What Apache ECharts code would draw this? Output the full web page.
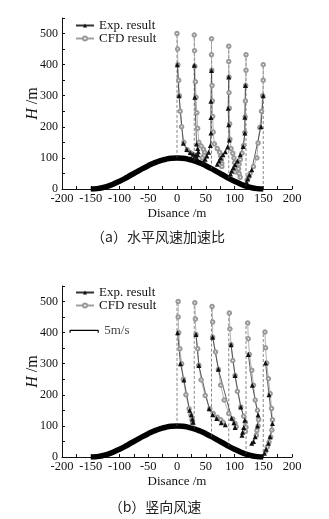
<!DOCTYPE html>
<html>
<head>
<meta charset="utf-8">
<script src="https://cdn.jsdelivr.net/npm/echarts/dist/echarts.min.js"></script>
<style>
  html, body { margin: 0; padding: 0; background: #fff; }
  #chart { width: 329px; height: 519px; }
</style>
</head>
<body>
<div id="chart"></div>
<script>
// hill profile (distance, height)
var hillX = [-150, -140, -130, -120, -110, -100, -90, -80, -70, -60, -50, -40, -30, -20, -10, 0,
  10, 20, 30, 40, 50, 60, 70, 80, 90, 100, 110, 120, 130, 140, 150];
var hillH = [0, 1, 4, 9.5, 16.5, 25, 34.5, 45, 55, 65.5, 75, 83.5, 90.5, 95.5, 99, 100,
  99, 95.5, 90.5, 83.5, 75, 65.5, 55, 45, 34.5, 25, 16.5, 9.5, 4, 1, 0];

// measuring stations: dashed reference lines
var stationX = [0, 30, 60, 90, 120, 150];
var groundH = [100, 90.5, 65.5, 34.5, 9.5, 0];
var topA = [500, 495, 483, 459, 432, 400];
var topB = [500, 496, 484, 463, 431, 402];

// (a) speed-up ratio profiles, [x, H]
var aCfd = [
  [[0,500],[1,450],[1.5,400],[3,350],[4,300],[5.5,250],[8,200],[12,150],[18,126],[24,116],[29,110],[33,106]],
  [[30,495],[30.5,445],[31,395],[32,345],[33,295],[34.5,245],[36,195],[38,150],[42,138],[46,128],[48,118],[47,108],[44,100]],
  [[60,483],[60,432],[60.5,382],[61,333],[61.5,283],[62,233],[63,183],[65,145],[70,130],[74,118],[76,106],[77,94],[78,82],[78,72]],
  [[90,459],[90,410],[90.5,360],[90.5,310],[91,260],[91.5,210],[92,160],[94,130],[97,115],[99,100],[100,85],[101,70],[101,55]],
  [[120,432],[120,382],[119.5,333],[119,283],[118.5,232],[118,182],[116,140],[113,115],[110,95],[108,80],[107,65],[108,50],[110,38]],
  [[150,400],[150,350],[149,300],[147,250],[144,198],[141,148],[139,100],[133,72],[127,50],[124,38],[122,28]]
];
var aExp = [
  [[0.5,400],[3.5,300],[11,147],[17,127],[23,117],[28,112],[32,108]],
  [[30,398],[31,295],[34,145],[36,130],[37,120],[36,110],[34,101]],
  [[60,381],[59,282],[59,230],[59,180],[58,140],[55,118],[52,106],[49,96],[46,88]],
  [[90,360],[89,260],[90,207],[91,158],[88,135],[84,120],[80,110],[76,100],[73,90],[70,80]],
  [[119,333],[118,231],[118,180],[115,137],[110,110],[105,90],[101,78],[98,68],[95,58],[93,48]],
  [[150,300],[146,200],[130,62],[126,45],[123,33],[121,22]]
];

// (b) vertical wind speed profiles, [x, H]
var bCfd = [
  [[2,500],[2,450],[3,400],[5,348],[8,300],[11,250],[15.5,200],[21,155],[24,135],[26,120],[27,108]],
  [[31,496],[32,444],[33,394],[36,348],[38,295],[42,248],[49,198],[57,155],[63,140],[70,128],[76,120],[80,112]],
  [[61,484],[62,434],[62,385],[67,338],[72,282],[76,231],[82,183],[90,140],[97,122],[101,108],[103,97]],
  [[91,463],[92,412],[94,361],[97,310],[101,262],[105,211],[111,161],[116,131],[119,112],[120,96],[119,82]],
  [[123,431],[124,380],[126,330],[130,279],[133,231],[136,183],[140,150],[142,120],[141,100],[139,85],[138,70]],
  [[153,402],[154,351],[156,302],[159,252],[162,204],[164.5,156],[166,120],[165,87],[163,64],[160,48],[157,32],[154,18]]
];
var bExp = [
  [[1,400],[6,300],[12,248],[22,150],[25,136],[27,122],[28,112]],
  [[33,394],[38,294],[56,155],[62,136],[69,124],[77,110],[84,104]],
  [[62,385],[72,282],[95,125],[99,110],[101,95]],
  [[94,361],[101,262],[111,161],[118,118],[116,95],[114,80],[113,70]],
  [[124,330],[131,231],[141,135],[140,100],[136,65],[133,50],[130,44]],
  [[154,302],[160,200],[166,108],[162,65],[159,44],[155,25],[152,12]]
];

// scale arrow for (b): 5 m/s
var scaleBar = [[-186,400],[-186,407],[-137,407],[-137,400]];
var scaleText = '5m/s';

var serif = 'Liberation Serif';
var ink = '#111';

function xAxisOf(i) {
  return {
    type: 'value', gridIndex: i, min: -200, max: 200, interval: 25,
    name: 'Disance /m', nameLocation: 'middle', nameGap: 18, nameMoveOverlap: false,
    nameTextStyle: { fontFamily: serif, fontSize: 13, color: ink },
    axisLine: { onZero: false, lineStyle: { color: ink, width: 1 } },
    axisTick: { inside: true, length: 3, lineStyle: { color: ink } },
    axisLabel: { fontFamily: serif, fontSize: 12.5, color: ink, margin: 3,
      formatter: function (v) { return v % 50 === 0 ? String(v) : ''; } },
    splitLine: { show: false }
  };
}
function yAxisOf(i) {
  return {
    type: 'value', gridIndex: i, min: 0, max: 550, interval: 50,
    name: '{i|H} /m', nameLocation: 'middle', nameGap: 21, nameMoveOverlap: false,
    nameTextStyle: { fontFamily: serif, fontSize: 16, color: ink,
      rich: { i: { fontFamily: serif, fontSize: 16, fontStyle: 'italic', color: ink } } },
    axisLine: { show: true, onZero: false, lineStyle: { color: ink, width: 1 } },
    axisTick: { inside: true, length: 3, lineStyle: { color: ink } },
    axisLabel: { fontFamily: serif, fontSize: 12, color: ink, margin: 4,
      formatter: function (v) { return v % 100 === 0 ? String(v) : ''; } },
    splitLine: { show: false }
  };
}
function legendOf(top) {
  return {
    data: ['Exp. result', 'CFD result'], orient: 'vertical', left: 75, top: top,
    padding: 0, itemGap: 0, itemWidth: 18, itemHeight: 5,
    textStyle: { fontFamily: serif, fontSize: 13, color: ink, lineHeight: 13 }
  };
}

var series = [];
function addPanel(g, tops, cfd, exp) {
  series.push({
    type: 'line', xAxisIndex: g, yAxisIndex: g, smooth: true, symbol: 'none',
    data: hillX.map(function (x, k) { return [x, hillH[k]]; }),
    lineStyle: { color: '#000', width: 5.5 }, silent: true
  });
  stationX.forEach(function (x, k) {
    series.push({
      type: 'line', xAxisIndex: g, yAxisIndex: g, symbol: 'none',
      data: [[x, groundH[k]], [x, tops[k]]],
      lineStyle: { color: '#555', width: 0.7, type: [3, 2] }, silent: true
    });
  });
  cfd.forEach(function (d) {
    series.push({
      name: 'CFD result', type: 'line', xAxisIndex: g, yAxisIndex: g, data: d,
      symbol: 'emptyCircle', symbolSize: 3.5,
      itemStyle: { color: '#999', borderWidth: 0.7 },
      lineStyle: { color: '#a0a0a0', width: 0.8 }
    });
  });
  exp.forEach(function (d) {
    series.push({
      name: 'Exp. result', type: 'line', xAxisIndex: g, yAxisIndex: g, data: d,
      symbol: 'triangle', symbolSize: 5,
      itemStyle: { color: '#111' },
      lineStyle: { color: '#333', width: 0.8 }
    });
  });
}
addPanel(0, topA, aCfd, aExp);
addPanel(1, topB, bCfd, bExp);

series.push({
  type: 'line', xAxisIndex: 1, yAxisIndex: 1, symbol: 'none', silent: true,
  lineStyle: { color: '#000', width: 1.2 },
  data: scaleBar
});
series.push({
  type: 'scatter', xAxisIndex: 1, yAxisIndex: 1, symbolSize: 0, silent: true,
  data: [scaleBar[2]],
  label: { show: true, position: 'right', distance: 6, formatter: scaleText,
    fontFamily: serif, fontSize: 13, color: ink }
});

var chart = echarts.init(document.getElementById('chart'), null, { renderer: 'canvas' });
chart.setOption({
  animation: false,
  backgroundColor: '#fff',
  grid: [
    { left: 62, right: 37, top: 18, height: 171 },
    { left: 62, right: 37, top: 286, height: 171 }
  ],
  xAxis: [xAxisOf(0), xAxisOf(1)],
  yAxis: [yAxisOf(0), yAxisOf(1)],
  legend: [legendOf(19), legendOf(286)],
  graphic: [
    { type: 'text', x: 158, y: 237, style: { text: '（a）水平风速加速比', fontFamily: 'Noto Sans CJK SC',
      fontSize: 14, fill: '#222', align: 'center', verticalAlign: 'middle' } },
    { type: 'text', x: 155, y: 507, style: { text: '（b）竖向风速', fontFamily: 'Noto Sans CJK SC',
      fontSize: 14, fill: '#222', align: 'center', verticalAlign: 'middle' } }
  ],
  series: series
});
</script>
</body>
</html>
